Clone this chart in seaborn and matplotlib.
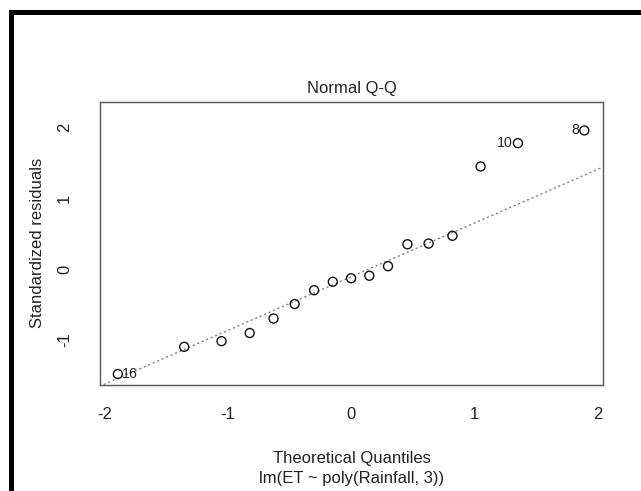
import matplotlib
matplotlib.use("Agg")
import matplotlib.pyplot as plt
from matplotlib import font_manager
from matplotlib.patches import Rectangle
import seaborn as sns
import pandas as pd

# Data
theoretical = [-1.8895, -1.3517, -1.0494, -0.8213, -0.6280, -0.4569, -0.2993,
               -0.1479, 0.0, 0.1479, 0.2993, 0.4569, 0.6280, 0.8213, 1.0494,
               1.3517, 1.8895]
std_resid = [-1.485, -1.10, -1.02, -0.905, -0.70, -0.495, -0.30, -0.18, -0.13,
             -0.095, 0.04, 0.35, 0.36, 0.47, 1.45, 1.78, 1.96]
obs_labels = ["16", "", "", "", "", "", "", "", "", "", "", "", "", "", "", "10", "8"]
line_intercept = -0.11
line_slope = 0.76
x_ticks = [-2, -1, 0, 1, 2]
y_ticks = [-1, 0, 1, 2]

df = pd.DataFrame({"q": theoretical, "r": std_resid, "lab": obs_labels})

sns.set_style("white")
try:
    font_manager.findfont("Liberation Sans Narrow", fallback_to_default=False)
    fam = "Liberation Sans Narrow"
    fs = 13.5
except Exception:
    fam = "Liberation Sans"
    fs = 12
plt.rcParams["font.family"] = [fam, "DejaVu Sans"]

W, H = 641, 491
fig = plt.figure(figsize=(W / 100, H / 100), dpi=100)
ax = fig.add_axes([100 / W, 1 - 384.5 / H, 503 / W, 282.8 / H])

ax.axline((0, line_intercept), slope=line_slope, color="#808080",
          linestyle=(0, (1.5, 2.0)), linewidth=1.0, zorder=1)
sns.scatterplot(data=df, x="q", y="r", ax=ax, marker="o", s=42,
                facecolor="none", edgecolor="#111111", linewidth=1.0, zorder=3)

for _, row in df.iterrows():
    if row["lab"] == "":
        continue
    if row["q"] < 0:
        ax.annotate(row["lab"], (row["q"], row["r"]), xytext=(3, 0),
                    textcoords="offset points", ha="left", va="center",
                    fontsize=fs * 0.85, color="#222222")
    else:
        ax.annotate(row["lab"], (row["q"], row["r"]), xytext=(-3.5, 0),
                    textcoords="offset points", ha="right", va="center",
                    fontsize=fs * 0.85, color="#222222")

ax.set_xlim(-2.034, 2.041)
ax.set_ylim(-1.633, 2.366)
ax.set_xticks(x_ticks)
ax.set_yticks(y_ticks)
ax.set_xticklabels([str(t) for t in x_ticks])
ax.set_yticklabels([str(t) for t in y_ticks], rotation=90, va="center")
ax.tick_params(axis="both", direction="out", length=7, width=1, color="#333333",
               labelsize=fs, labelcolor="#222222")
ax.tick_params(axis="x", pad=9)
ax.tick_params(axis="y", pad=13)
ax.set_xlabel("")
ax.set_ylabel("")
for sp in ax.spines.values():
    sp.set_visible(True)
    sp.set_color("#555555")
    sp.set_linewidth(1.0)

fig.text(351.5 / W, 1 - 88 / H, "Normal Q-Q", ha="center", va="center",
         fontsize=fs, color="#222222")
fig.text(351.5 / W, 1 - 458 / H, "Theoretical Quantiles", ha="center",
         va="center", fontsize=fs, color="#222222")
fig.text(351.5 / W, 1 - 478 / H, "lm(ET ~ poly(Rainfall, 3))", ha="center",
         va="center", fontsize=fs, color="#222222")
fig.text(38 / W, 1 - 243 / H, "Standardized residuals", ha="center",
         va="center", rotation=90, fontsize=fs, color="#222222")

# outer black frame (top and left)
fig.add_artist(Rectangle((9 / W, 1 - 14.5 / H), 1 - 9 / W, 4.5 / H,
                         transform=fig.transFigure, facecolor="black",
                         edgecolor="none"))
fig.add_artist(Rectangle((9 / W, 0), 4.5 / W, 1 - 10 / H,
                         transform=fig.transFigure, facecolor="black",
                         edgecolor="none"))

fig.savefig("out.png", dpi=100, facecolor="white")
